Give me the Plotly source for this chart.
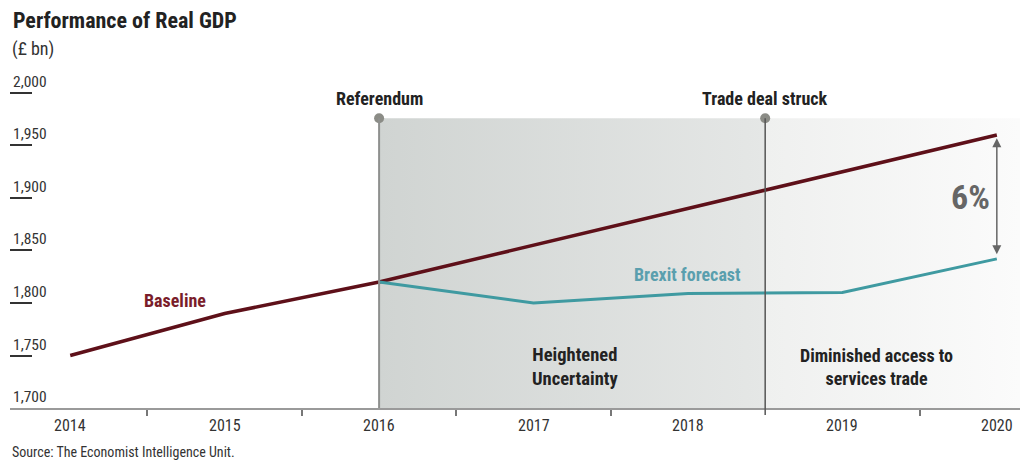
import plotly.graph_objects as go

# ---- data ----
years = [2014, 2015, 2016, 2017, 2018, 2019, 2020]
baseline = [1750, 1790, 1820, 1855, 1890, 1925, 1960]
brexit_years = [2016, 2017, 2018, 2019, 2020]
brexit = [1820, 1800, 1809, 1810, 1842]
y_ticks = [1700, 1750, 1800, 1850, 1900, 1950, 2000]
y_tick_labels = ["1,700", "1,750", "1,800", "1,850", "1,900", "1,950", "2,000"]
x_tick_labels = ["2014", "2015", "2016", "2017", "2018", "2019", "2020"]
referendum_x = 2016
trade_deal_x = 2018.5
gap_label = "6%"

# ---- style ----
FONT = "Roboto Condensed, Roboto, sans-serif"
MAROON = "#5e1019"
TEAL = "#3f9aa1"
X_RANGE = [2013.61, 2020.15]
Y_RANGE = [1700, 2031.4]
SHADE_TOP = 1976

fig = go.Figure()

# shaded periods (gradients)
fig.add_trace(go.Scatter(
    x=[referendum_x, trade_deal_x, trade_deal_x, referendum_x, referendum_x],
    y=[Y_RANGE[0], Y_RANGE[0], SHADE_TOP, SHADE_TOP, Y_RANGE[0]],
    fill="toself", mode="none", hoverinfo="skip", showlegend=False,
    fillgradient=dict(type="horizontal",
                      colorscale=[[0, "#d0d4d2"], [1, "#e5e7e6"]]),
))
fig.add_trace(go.Scatter(
    x=[trade_deal_x, X_RANGE[1], X_RANGE[1], trade_deal_x, trade_deal_x],
    y=[Y_RANGE[0], Y_RANGE[0], SHADE_TOP, SHADE_TOP, Y_RANGE[0]],
    fill="toself", mode="none", hoverinfo="skip", showlegend=False,
    fillgradient=dict(type="horizontal",
                      colorscale=[[0, "#eff0ef"], [1, "#fbfbfb"]]),
))

# event lines
fig.add_shape(type="line", xref="x", yref="y", x0=referendum_x, x1=referendum_x,
              y0=Y_RANGE[0], y1=SHADE_TOP, line=dict(color="#8e908e", width=2))
fig.add_shape(type="line", xref="x", yref="paper", x0=trade_deal_x, x1=trade_deal_x,
              y0=-0.02, y1=(SHADE_TOP - Y_RANGE[0]) / (Y_RANGE[1] - Y_RANGE[0]),
              line=dict(color="#555555", width=1.5))

# data lines
fig.add_trace(go.Scatter(x=years, y=baseline, mode="lines", showlegend=False,
                         line=dict(color=MAROON, width=3.5)))
fig.add_trace(go.Scatter(x=brexit_years, y=brexit, mode="lines", showlegend=False,
                         line=dict(color=TEAL, width=3)))

# event dots
fig.add_trace(go.Scatter(x=[referendum_x, trade_deal_x], y=[SHADE_TOP, SHADE_TOP],
                         mode="markers", showlegend=False, hoverinfo="skip",
                         marker=dict(size=10, color="#8b8c86")))

anns = []
# y tick labels
for v, t in zip(y_ticks, y_tick_labels):
    anns.append(dict(x=0, xref="paper", y=v, yref="y", text=t, showarrow=False,
                     xanchor="left", yanchor="bottom", yshift=0, xshift=1,
                     font=dict(family=FONT, size=15.5, color="#333333")))
# x tick labels
for v, t in zip(years, x_tick_labels):
    anns.append(dict(x=v, xref="x", y=0, yref="paper", text=t, showarrow=False,
                     xanchor="center", yanchor="top", yshift=-6,
                     font=dict(family=FONT, size=16, color="#333333")))

anns += [
    dict(x=referendum_x, y=SHADE_TOP, text="<b>Referendum</b>", showarrow=False,
         yanchor="bottom", yshift=7, font=dict(family=FONT, size=18, color="#222")),
    dict(x=trade_deal_x, y=SHADE_TOP, text="<b>Trade deal struck</b>", showarrow=False,
         yanchor="bottom", yshift=7, font=dict(family=FONT, size=18, color="#222")),
    dict(x=2014.68, y=1802, text="<b>Baseline</b>", showarrow=False,
         font=dict(family=FONT, size=18, color="#7a1d2a")),
    dict(x=2018.0, y=1827, text="<b>Brexit forecast</b>", showarrow=False,
         font=dict(family=FONT, size=18, color="#5a9fae")),
    dict(x=2017.27, y=1739, text="<b>Heightened<br>Uncertainty</b>", showarrow=False,
         font=dict(family=FONT, size=18.5, color="#222")),
    dict(x=2019.22, y=1739, text="<b>Diminished access to<br>services trade</b>", showarrow=False,
         font=dict(family=FONT, size=18, color="#222")),
    dict(x=2019.83, y=1901, text="<b>" + gap_label + "</b>", showarrow=False,
         font=dict(family=FONT, size=34, color="#666666")),
    dict(x=years[-1], y=baseline[-1] - 3, ax=years[-1], ay=brexit[-1] + 3,
         xref="x", yref="y", axref="x", ayref="y", text="", showarrow=True,
         arrowhead=2, startarrowhead=2, arrowside="end+start", arrowsize=1.2,
         arrowwidth=1.5, arrowcolor="#666666"),
    dict(x=0, xref="paper", y=1, yref="paper", text="<b>Performance of Real GDP</b>",
         showarrow=False, xanchor="left", yanchor="top", yshift=54, xshift=1,
         font=dict(family=FONT, size=22, color="#222")),
    dict(x=0, xref="paper", y=1, yref="paper", text="(£ bn)",
         showarrow=False, xanchor="left", yanchor="top", yshift=24, xshift=0,
         font=dict(family=FONT, size=18, color="#333")),
    dict(x=0, xref="paper", y=0, yref="paper", text="Source: The Economist Intelligence Unit.",
         showarrow=False, xanchor="left", yanchor="top", yshift=-34,
         font=dict(family=FONT, size=14, color="#333")),
]

fig.update_layout(
    width=1026, height=464,
    margin=dict(l=10, r=6, t=60, b=56),
    plot_bgcolor="white", paper_bgcolor="white",
    annotations=anns,
    showlegend=False,
    xaxis=dict(range=X_RANGE, showgrid=False, zeroline=False,
               showline=True, linecolor="#9a9a9a", linewidth=2,
               tickvals=years, showticklabels=False, ticks="outside", ticklen=0,
               minor=dict(tickvals=[2014.5, 2015.5, 2016.5, 2017.5, 2019.5],
                          ticklen=6, tickcolor="#777777", tickwidth=1.5, ticks="outside")),
    yaxis=dict(range=Y_RANGE, showgrid=False, zeroline=False, showline=False,
               tickvals=y_ticks, showticklabels=False, ticks="inside", ticklen=22,
               tickcolor="#333333", tickwidth=1.5),
)

fig.write_html("out.html")
